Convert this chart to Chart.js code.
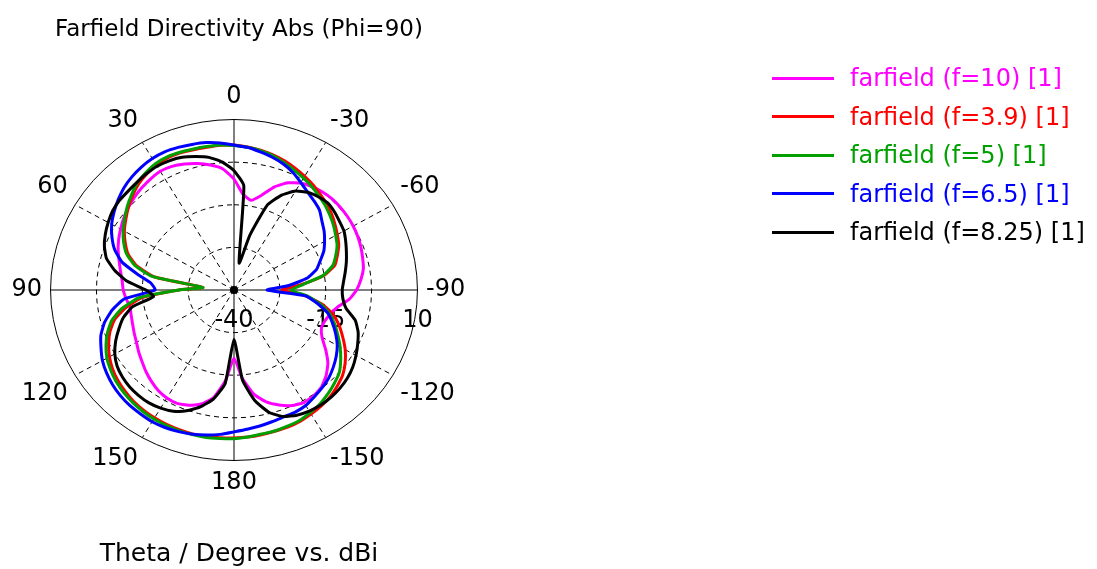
<!DOCTYPE html>
<html>
<head>
<meta charset="utf-8">
<script src="https://cdn.jsdelivr.net/npm/chart.js@4.4.1/dist/chart.umd.min.js"></script>
<style>
  html, body { margin: 0; padding: 0; background: #fff; }
  body { width: 1097px; height: 569px; position: relative; overflow: hidden; font-family: "DejaVu Sans", sans-serif; }
  #farfield-chart { position: absolute; left: 0; top: 0; }
  #farfield-legend { position: absolute; left: 772px; top: 59px; margin: 0; padding: 0; list-style: none; }
  #farfield-legend li { display: flex; align-items: center; height: 38.5px; font-size: 24px; white-space: nowrap; }
  #farfield-legend .swatch { width: 62px; height: 3px; margin-right: 16px; }
</style>
</head>
<body>
<canvas id="farfield-chart" width="1097" height="569"></canvas>
<ul id="farfield-legend"></ul>
<script>
// theta in the order the radar walks round (clockwise from the top)
const theta = [0, -5, -10, -15, -20, -25, -30, -35, -40, -45, -50, -55, -60, -65, -70, -75, -80, -85,
  -90, -95, -100, -105, -110, -115, -120, -125, -130, -135, -140, -145, -150, -155, -160, -165, -170, -175,
  180, 175, 170, 165, 160, 155, 150, 145, 140, 135, 130, 125, 120, 115, 110, 105, 100, 95,
  90, 85, 80, 75, 70, 65, 60, 55, 50, 45, 40, 35, 30, 25, 20, 15, 10, 5];

const angleTickLabels = ["0", "-30", "-60", "-90", "-120", "-150", "180", "150", "120", "90", "60", "30"];
const radialTickLabels = [-40, -15, 10];

// directivity in dBi
const farfield10 = [-7.5, -11.8, -13.3, -11.3, -7.8, -5.3, -3.8, -3.0, -2.5, -2.2, -2.2, -2.3, -2.5, -2.8, -3.2, -3.7, -4.2, -5.3,
  -6.6, -8.5, -11.3, -12.8, -13.6, -13.7, -12.3, -9.5, -6.6, -4.5, -2.9, -2.1, -1.9, -2.6, -4.1, -6.0, -9.0, -14.0,
  -20.0, -13.3, -8.0, -5.4, -4.0, -3.3, -3.4, -4.0, -5.0, -6.1, -7.3, -8.3, -9.3, -10.0, -10.6, -11.0, -11.2, -10.5,
  -9.8, -9.4, -8.6, -7.6, -6.4, -5.3, -4.3, -3.3, -2.4, -1.6, -0.9, -0.3, 0.2, 0.0, -0.7, -1.6, -2.8, -4.3];

const farfield3_9 = [2.5, 2.1, 1.6, 1.0, 0.3, -0.6, -1.5, -2.4, -3.4, -4.3, -5.3, -6.4, -7.5, -8.5, -10.0, -11.5, -15.0, -21.5,
  -27.0, -20.5, -15.5, -12.0, -9.5, -7.3, -5.0, -3.0, -1.3, -0.2, 0.8, 1.5, 2.0, 2.5, 2.8, 2.9, 3.1, 3.3,
  3.4, 3.5, 3.6, 3.7, 3.6, 3.5, 3.3, 3.0, 2.6, 2.0, 1.3, 0.4, -0.8, -2.3, -4.0, -6.3, -10.0, -15.0,
  -25.0, -31.5, -18.0, -12.5, -9.3, -7.3, -5.5, -4.0, -2.4, -0.9, 0.5, 1.5, 2.3, 2.7, 2.8, 2.6, 2.5, 2.6];

const farfield5 = [2.4, 2.0, 1.5, 0.8, -0.2, -1.2, -2.1, -3.0, -4.0, -4.9, -5.9, -6.9, -8.0, -9.0, -10.5, -12.1, -15.3, -21.0,
  -24.5, -20.0, -16.0, -13.0, -10.8, -8.8, -6.6, -4.5, -2.5, -1.3, -0.2, 0.8, 1.5, 2.2, 2.5, 2.8, 2.9, 3.3,
  3.6, 3.7, 3.9, 3.9, 3.9, 3.8, 3.7, 3.4, 3.0, 2.5, 1.9, 1.0, 0.0, -1.5, -3.3, -5.5, -9.0, -14.0,
  -25.0, -31.5, -17.5, -12.0, -8.8, -6.8, -5.1, -3.6, -2.0, -0.5, 1.0, 2.0, 2.8, 3.1, 3.0, 2.8, 2.7, 2.7];

const farfield6_5 = [2.5, 2.0, 1.1, 0.3, -0.7, -2.0, -3.6, -5.0, -6.0, -7.0, -8.7, -10.0, -11.5, -13.0, -15.0, -16.7, -19.7, -25.0,
  -31.0, -20.5, -16.8, -13.5, -11.4, -9.4, -7.5, -6.0, -4.7, -3.5, -2.6, -1.8, -0.9, -0.5, -0.4, 0.0, 0.5, 1.0,
  1.6, 2.5, 3.2, 3.8, 4.2, 4.5, 4.6, 4.4, 4.2, 3.8, 3.2, 2.4, 1.4, 0.0, -1.4, -3.5, -6.3, -10.0,
  -18.5, -17.3, -13.3, -8.4, -5.4, -3.3, -1.5, -0.1, 1.2, 2.4, 3.3, 4.0, 4.5, 4.7, 4.5, 4.2, 3.9, 3.3];

const farfield8_25 = [-5.0, -9.3, -32.0, -23.5, -13.5, -9.3, -6.5, -5.0, -4.3, -3.9, -4.3, -4.9, -5.4, -6.4, -7.4, -8.3, -9.2, -10.0,
  -10.5, -10.2, -9.0, -5.8, -4.0, -2.8, -1.6, -0.5, 0.3, 0.8, 1.1, 1.2, 1.0, 0.5, -0.5, -2.8, -7.0, -13.5,
  -25.5, -12.5, -7.5, -4.5, -2.3, -0.8, 0.0, 0.4, 0.4, 0.2, -0.3, -1.1, -2.5, -4.4, -6.6, -8.8, -12.0, -18.0,
  -16.0, -10.8, -7.0, -4.0, -2.4, -1.3, -0.4, 0.4, 0.8, 0.9, 1.2, 1.6, 1.9, 1.8, 1.4, 0.5, -0.5, -2.3];

const FONT = "DejaVu Sans";
const STRETCH_X = 1.076; // the polar plot is a touch wider than tall

// radial scale whose rings come out as ellipses
class EllipticRadialScale extends Chart.RadialLinearScale {
  getPointPosition(index, distanceFromCenter, additionalAngle = 0) {
    const p = super.getPointPosition(index, distanceFromCenter, additionalAngle);
    return { x: this.xCenter + (p.x - this.xCenter) * STRETCH_X, y: p.y, angle: p.angle };
  }
}
EllipticRadialScale.id = "ellipticRadial";
Chart.register(EllipticRadialScale);

function series(label, data, color, order) {
  return { label, data, borderColor: color, backgroundColor: "transparent", fill: false, order };
}

// dB tick labels sit under the -90 spoke, plus the centre dot
const dbTicksPlugin = {
  id: "dbTicks",
  beforeDatasetsDraw(chart) {
    const scale = chart.scales.r;
    const ctx = chart.ctx;
    const spoke = theta.indexOf(-90);
    ctx.save();
    ctx.fillStyle = "#000";
    ctx.beginPath();
    ctx.arc(scale.xCenter, scale.yCenter, 4, 0, Math.PI * 2);
    ctx.fill();
    ctx.font = `24px "${FONT}"`;
    ctx.textAlign = "center";
    ctx.textBaseline = "middle";
    scale.ticks.forEach(tick => {
      if (!tick.label) return;
      const p = scale.getPointPositionForValue(spoke, tick.value);
      ctx.fillText(tick.label, p.x, scale.yCenter + 31);
    });
    ctx.restore();
  }
};

const chart = new Chart(document.getElementById("farfield-chart"), {
  type: "radar",
  data: {
    labels: theta.map(String),
    datasets: [
      series("farfield (f=10) [1]", farfield10, "#ff00ff", 4),
      series("farfield (f=3.9) [1]", farfield3_9, "#ff0000", 3),
      series("farfield (f=5) [1]", farfield5, "#00a000", 2),
      series("farfield (f=6.5) [1]", farfield6_5, "#0000ff", 1),
      series("farfield (f=8.25) [1]", farfield8_25, "#000000", 0),
    ],
  },
  options: {
    responsive: false,
    animation: false,
    devicePixelRatio: 1,
    layout: { padding: { left: 4, right: 623, top: 0, bottom: 0 } },
    elements: {
      line: { borderWidth: 3, tension: 0.15 },
      point: { radius: 0, hitRadius: 0 },
    },
    plugins: {
      legend: { display: false },
      tooltip: { enabled: false },
      title: {
        display: true,
        text: "Farfield Directivity Abs (Phi=90)",
        color: "#000",
        font: { family: FONT, size: 23, weight: "normal" },
        padding: { top: 16, bottom: 39.1 },
      },
      subtitle: {
        display: true,
        position: "bottom",
        text: "Theta / Degree vs. dBi",
        color: "#000",
        font: { family: FONT, size: 25, weight: "normal" },
        padding: { top: 40.7, bottom: 0 },
      },
    },
    scales: {
      r: {
        type: "ellipticRadial",
        min: -40,
        max: 10,
        ticks: {
          display: false,
          stepSize: 12.5,
          callback: v => radialTickLabels.includes(v) ? String(v) : "",
        },
        grid: { circular: false, color: "#000", lineWidth: 1 },
        border: { dash: c => c.tick && c.tick.value === 10 ? [] : [5, 4] },
        angleLines: {
          color: "#000",
          lineWidth: c => c.index % 6 === 0 ? 1 : 0,
          borderDash: c => c.index % 18 === 0 ? [] : [5, 4],
        },
        pointLabels: {
          color: "#000",
          font: { family: FONT, size: 24 },
          padding: 8,
          callback: (label, i) => i % 6 === 0 ? angleTickLabels[i / 6] : "",
        },
      },
    },
  },
  plugins: [dbTicksPlugin],
});

const legendList = document.getElementById("farfield-legend");
legendList.innerHTML = chart.data.datasets.map(ds => `
  <li style="color:${ds.borderColor}"><span class="swatch" style="background:${ds.borderColor}"></span>${ds.label}</li>`).join("");
</script>
</body>
</html>
